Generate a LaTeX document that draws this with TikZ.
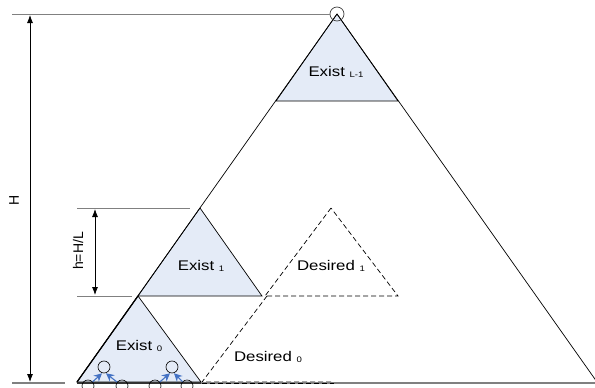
\documentclass[tikz,border=0pt]{standalone}
\usepackage{fontspec}
\setmainfont{Liberation Sans}
\newfontfamily\labfont[FakeStretch=1.2]{Liberation Sans}
\usetikzlibrary{arrows.meta}
\definecolor{trifill}{RGB}{228,235,247}
\definecolor{arrblue}{RGB}{68,114,196}
\definecolor{guide}{RGB}{128,128,128}
\newcommand{\labsub}[1]{\ {\fontsize{8}{9}\selectfont\raisebox{-1.5pt}{#1}}}
\tikzset{
  tri/.style={draw=black, line width=0.7pt, fill=trifill, line join=miter},
  edge/.style={draw=black, line width=0.7pt},
  dtri/.style={draw=black, line width=0.7pt, dash pattern=on 5pt off 3pt},
  guideline/.style={draw=guide, line width=0.8pt},
  baseline/.style={draw=guide, line width=2pt},
  dim/.style={draw=black, line width=0.8pt, {Latex[length=8pt,width=6pt]}-{Latex[length=8pt,width=6pt]}},
  lab/.style={font=\labfont\fontsize{14}{16}\selectfont, inner sep=0pt},
  vlab/.style={font=\fontsize{14}{16}\selectfont, inner sep=0pt, rotate=90},
  node/.style={circle, draw=black, line width=0.6pt, minimum size=12pt, inner sep=0pt},
  flow/.style={draw=arrblue, line width=1.1pt, -{Stealth[length=8pt,width=8pt]}}
}
\begin{document}
\begin{tikzpicture}[x=1pt,y=-1pt]
\useasboundingbox (0,0) rectangle (595,388);
% key points
\coordinate (A) at (337,14);
\coordinate (BL) at (77,382);
\coordinate (BR) at (597,382);
\coordinate (E1top) at (200,208);
\coordinate (E0top) at (138,296);
% filled triangles
\path[tri] (A) -- (276,101) -- (398,101) -- cycle;
\path[tri] (E1top) -- (E0top) -- (262,296) -- cycle;
\path[tri] (E0top) -- (BL) -- (201,382) -- cycle;
% dashed triangles
\path[dtri] (331,208) -- (265,296) -- (398,296) -- cycle;
\path[dtri] (267,296) -- (202,382) -- (334,382);
% bottom line
\draw[baseline] (77,383) -- (595,383);
\draw[draw=black!80, line width=1.6pt] (77,383) -- (201,383);
\draw[dtri, line width=1pt] (202,383) -- (334,383);
% big triangle
\draw[edge] (A) -- (BL);
\draw[edge, line width=1.2pt] (E0top) -- (BL);
\draw[edge] (A) -- (BR);
% top circle
\node[circle, draw=black!75, line width=0.7pt, minimum width=14pt, inner sep=0pt] (top) at (337,14) {};
% guide lines
\coordinate (tl) at (12,14);
\draw[guideline] (tl) -- (top.west);
\draw[guide, line width=1.6pt] (12,383) -- (65,383);
\draw[guideline] (77,208) -- (190,208);
\draw[guideline] (77,296) -- (132,296);
% dimensions
\coordinate (H1) at (30,15);
\coordinate (H2) at (30,382);
\draw[dim] (H1) -- (H2);
\node[vlab] (Hlab) at (14,200) {H};
\coordinate (h1) at (95,209);
\coordinate (h2) at (95,295);
\draw[dim] (h1) -- (h2);
\node[vlab] (hlab) at (78,251) {h=H/L};
% labels
\node[lab] (lL) at (336,72) {Exist\labsub{L-1}};
\node[lab] (l1) at (201,266) {Exist\labsub{1}};
\node[lab] (d1) at (331,266) {Desired\labsub{1}};
\node[lab] (d0) at (268,357) {Desired\labsub{0}};
\node[lab] (l0) at (139,346) {Exist\labsub{0}};
% small nodes
\node[node] (c1) at (88,386) {};
\node[node] (c2) at (122,386) {};
\node[node] (c3) at (155,386) {};
\node[node] (c4) at (187,386) {};
\node[node] (u1) at (104,367) {};
\node[node] (u2) at (172,367) {};
\draw[flow] (c1) -- ([xshift=-2pt]u1.south);
\draw[flow] (c2) -- ([xshift=2pt]u1.south);
\draw[flow] (c3) -- ([xshift=-2pt]u2.south);
\draw[flow] (c4) -- ([xshift=2pt]u2.south);
\end{tikzpicture}
\end{document}
